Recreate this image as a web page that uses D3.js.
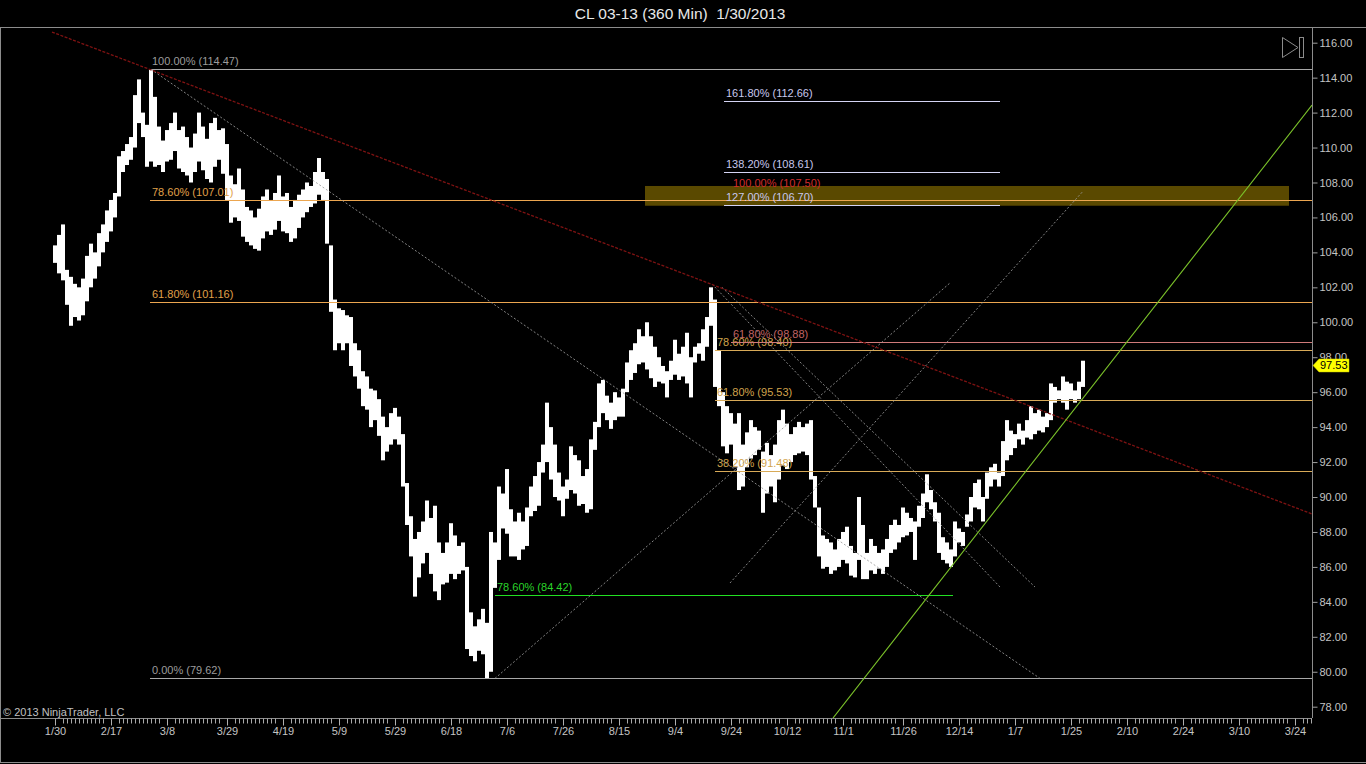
<!DOCTYPE html>
<html>
<head>
<meta charset="utf-8">
<script src="https://cdn.jsdelivr.net/npm/d3@7"></script>
<style>
  html, body { margin: 0; padding: 0; background: #000; }
  svg { display: block; font-family: "Liberation Sans", Arial, sans-serif; }
</style>
</head>
<body>
<svg id="chart" width="1366" height="764"></svg>
<script>
// ---- data (slot = one trading-day column of 360 min bars) ----
const highs = [
  104.4,105.0,105.6,103.0,102.6,102.2,102.0,102.5,103.8,104.5,
  104.0,105.1,105.6,106.4,107.0,107.4,109.5,109.8,110.2,110.6,
  113.0,113.9,112.0,111.3,114.47,112.9,111.2,110.4,111.0,111.4,
  112.0,111.0,111.2,110.6,110.0,110.8,112.0,111.2,110.5,111.4,
  111.7,111.0,111.1,110.2,108.4,107.9,108.8,107.6,106.6,106.4,
  106.0,106.5,107.2,107.6,107.0,107.4,108.4,107.2,107.4,106.6,
  107.0,107.3,107.6,108.0,107.8,108.6,109.4,108.6,108.2,104.4,
  101.3,100.8,100.7,100.4,100.3,98.8,98.4,97.2,96.9,96.2,
  96.1,95.6,94.6,94.0,94.8,95.1,94.6,93.6,90.8,88.9,
  87.6,88.0,88.6,89.8,88.8,89.5,87.4,86.8,87.4,88.5,
  87.8,87.2,87.4,86.0,83.4,82.6,83.0,83.6,82.8,88.0,
  87.4,90.6,90.2,91.6,89.3,88.6,89.1,88.6,89.4,90.6,
  91.2,92.0,93.0,95.4,94.0,93.0,91.4,90.6,91.0,92.9,
  92.4,92.1,91.2,91.6,93.3,94.3,96.5,96.7,95.8,95.4,
  96.0,95.7,96.2,97.7,98.4,98.8,99.6,99.2,100.0,99.2,
  98.6,98.0,97.5,97.2,97.8,99.0,98.2,98.6,99.4,98.0,
  98.6,98.8,99.6,100.3,102.0,101.3,98.4,96.0,95.2,94.8,
  94.2,94.8,93.0,93.7,94.4,94.0,93.8,92.6,93.1,92.4,
  93.0,94.4,95.0,94.2,93.6,94.0,94.3,94.0,94.2,94.4,
  91.2,89.4,87.8,87.6,87.4,87.0,87.6,88.0,88.3,87.2,
  86.8,90.0,88.4,86.8,87.6,87.2,86.8,87.0,87.6,88.4,
  88.7,88.4,89.4,89.1,88.8,88.6,89.5,90.2,91.3,90.4,
  89.7,89.1,87.7,87.4,87.0,88.6,88.2,88.0,89.0,90.0,
  90.8,91.0,90.0,91.4,91.7,91.9,91.4,93.2,94.4,93.8,
  93.6,94.2,93.8,94.4,95.2,94.8,95.0,94.6,94.8,96.5,
  96.3,96.1,96.9,96.6,96.5,96.1,96.6,97.8
];
const lows = [
  103.4,102.8,102.4,101.0,99.8,100.3,100.1,100.4,101.2,102.0,
  102.5,103.2,104.0,104.6,105.2,106.0,107.2,108.6,109.0,109.3,
  110.0,111.4,110.6,108.9,109.2,108.9,109.0,108.6,109.2,109.3,
  109.8,108.8,108.6,108.4,108.0,108.6,109.2,108.7,108.2,108.0,
  108.9,109.3,108.5,107.0,105.7,106.0,105.8,104.9,104.6,104.4,
  104.2,104.1,104.8,105.2,105.0,105.3,105.8,105.2,105.1,104.6,
  104.8,105.4,106.0,106.3,106.6,106.8,107.3,107.0,104.5,100.6,
  98.4,98.8,98.4,98.8,97.5,96.9,96.2,95.2,95.0,94.0,
  94.4,93.5,92.1,92.6,93.0,93.3,93.0,90.6,88.4,86.6,
  84.3,85.4,86.2,86.8,85.6,84.6,84.1,85.0,85.1,85.6,
  85.3,85.6,85.8,81.3,80.9,80.6,81.2,81.0,79.62,80.0,
  84.8,86.4,88.2,87.9,86.6,86.6,86.4,87.0,87.2,88.9,
  89.2,89.5,91.4,92.0,91.0,90.0,89.8,88.9,89.9,90.4,
  90.2,89.5,89.6,89.1,89.3,92.7,94.0,94.8,94.4,93.9,
  94.4,94.6,94.6,96.0,96.7,97.1,97.6,97.7,97.3,96.8,
  96.3,96.6,96.5,95.7,96.7,97.0,96.7,96.9,96.5,95.7,
  97.7,98.2,97.8,98.6,99.8,96.3,95.2,92.9,92.5,93.0,
  91.7,90.4,90.6,91.7,92.2,92.4,92.7,89.1,90.2,90.6,
  89.7,91.0,91.8,91.6,92.0,92.4,92.5,92.6,92.4,91.0,
  89.4,86.6,85.9,86.0,85.6,85.8,86.0,86.4,86.2,85.5,
  85.4,86.4,85.3,85.3,85.8,85.6,85.9,85.6,86.0,86.8,
  87.0,87.4,87.7,87.8,88.0,86.4,88.3,88.8,89.7,89.3,
  88.6,86.8,86.4,86.2,86.0,86.6,87.4,87.2,88.3,88.6,
  89.4,89.3,88.6,89.9,90.6,91.0,90.6,91.2,92.1,92.4,
  92.8,93.3,93.0,93.4,93.3,93.6,93.8,93.7,94.0,94.4,
  95.4,95.6,95.4,95.0,95.6,95.4,95.6,96.3
];
const lastClose = 97.53;

const dateLabels = ["1/30","2/17","3/8","3/29","4/19","5/9","5/29","6/18","7/6","7/26","8/15","9/4",
  "9/24","10/12","11/1","11/26","12/14","1/7","1/25","2/10","2/24","3/10","3/24"];
const dateSlots = [0,14,28,43,57,71,85,99,113,127,141,155,169,183,197,212,226,240,254,268,282,296,310];
const priceTicks = [78,80,82,84,86,88,90,92,94,96,98,100,102,104,106,108,110,112,114,116];

// big retracement 3/1 high -> 6/28 low
const retrPct = ["100.00%","78.60%","61.80%","0.00%"];
const retrPrice = [114.47, 107.01, 101.16, 79.62];
const retrStart = 23.75;
// retracement of the 9/14 high
const retr2Pct = ["78.60%","61.80%","38.20%"];
const retr2Price = [98.40, 95.53, 91.48];
const retr2Start = 165;
// red projection
const projPct = ["100.00%","61.80%"];
const projPrice = [107.50, 98.88];
const projStart = 169;
// extensions
const extPct = ["161.80%","138.20%","127.00%"];
const extPrice = [112.66, 108.61, 106.70];
const extRange = [167.25, 236.25];
// green retracement
const greenPct = "78.60%";
const greenPrice = 84.42;
const greenRange = [110, 224.5];
// target zone
const zoneSlots = [147.5, 308.5];
const zonePrices = [106.67, 107.80];

// drawn lines: [slot, price] pairs
const redTrend = [[-0.75, 116.61], [314.25, 89.03]];
const greenTrend = [[194.5, 77.35], [314.25, 112.43]];
const grayLines = [
  [[24, 114.47], [246.25, 79.62]],
  [[110, 79.62], [223.75, 102.25]],
  [[168.75, 85.08], [257, 107.50]],
  [[164.25, 102.19], [236.25, 84.85]],
  [[166.75, 102.0], [245, 84.85]]
];

// ---- layout ----
const W = 1366, H = 764;
const plot = { left: 1, right: 1312, top: 27, bottom: 718 };

const svg = d3.select("#chart");
const x = d3.scaleLinear().domain([0, 314.25]).range([55, plot.right]);
const y = d3.scaleLinear().domain([78, 116]).range([706.7, 42.7]);
const py = (p) => Math.round(y(p)) + 0.5;

svg.append("rect").attr("width", W).attr("height", H).attr("fill", "#000");

svg.append("text")
  .attr("x", 680).attr("y", 19)
  .attr("text-anchor", "middle")
  .attr("fill", "#e8e8e8")
  .attr("xml:space", "preserve")
  .style("white-space", "pre")
  .style("font-size", "15.5px")
  .text("CL 03-13 (360 Min)  1/30/2013");

// frame
const frame = svg.append("g").attr("stroke", "#8c8c8c").attr("shape-rendering", "crispEdges");
frame.append("line").attr("x1", 0).attr("x2", W).attr("y1", 27.5).attr("y2", 27.5);
frame.append("line").attr("x1", 0.5).attr("x2", 0.5).attr("y1", 27).attr("y2", 763);
frame.append("line").attr("x1", 0).attr("x2", W).attr("y1", 762.5).attr("y2", 762.5);
frame.append("line").attr("x1", plot.right + 0.5).attr("x2", plot.right + 0.5).attr("y1", 27).attr("y2", plot.bottom);
frame.append("line").attr("x1", 0).attr("x2", plot.right).attr("y1", plot.bottom + 0.5).attr("y2", plot.bottom + 0.5);

svg.append("clipPath").attr("id", "plotClip")
  .append("rect")
  .attr("x", plot.left).attr("y", plot.top)
  .attr("width", plot.right - plot.left).attr("height", plot.bottom - plot.top);

const g = svg.append("g").attr("clip-path", "url(#plotClip)");

// target zone
g.append("rect")
  .attr("x", x(zoneSlots[0]))
  .attr("width", x(zoneSlots[1]) - x(zoneSlots[0]))
  .attr("y", y(zonePrices[1]))
  .attr("height", y(zonePrices[0]) - y(zonePrices[1]))
  .attr("fill", "#806800")
  .attr("opacity", 0.7);

// price bars
g.append("g")
  .selectAll("rect")
  .data(highs)
  .enter()
  .append("rect")
  .attr("x", (d, i) => x(i) - 2)
  .attr("width", 4)
  .attr("y", (d) => y(d))
  .attr("height", (d, i) => Math.max(1, y(lows[i]) - y(d)))
  .attr("fill", "#fff");

// helper for levels
const drawLevels = (pcts, prices, x0, x1, lineColor, textColor) => {
  prices.forEach((p, i) => {
    g.append("line")
      .attr("x1", x(x0)).attr("x2", x1 === null ? plot.right : x(x1))
      .attr("y1", py(p)).attr("y2", py(p))
      .attr("stroke", lineColor)
      .attr("shape-rendering", "crispEdges");
    g.append("text")
      .attr("x", x(x0) + 2).attr("y", y(p) - 4)
      .attr("fill", textColor)
      .style("font-size", "11px")
      .text(`${pcts[i]} (${p.toFixed(2)})`);
  });
};

drawLevels(retrPct.filter((d, i) => i === 0 || i === 3),
  retrPrice.filter((d, i) => i === 0 || i === 3), retrStart, null, "#a8a8a8", "#9c9c9c");
drawLevels(retrPct.slice(1, 3), retrPrice.slice(1, 3), retrStart, null, "#eca650", "#e0a04a");
drawLevels(retr2Pct, retr2Price, retr2Start, null, "#d8aa58", "#d2a44c");
drawLevels([projPct[1]], [projPrice[1]], projStart, null, "#d07a7a", "#c06464");
g.append("text")
  .attr("x", x(projStart) + 2).attr("y", y(projPrice[0]) - 4)
  .attr("fill", "#d02c2c")
  .style("font-size", "11px")
  .text(`${projPct[0]} (${projPrice[0].toFixed(2)})`);
drawLevels(extPct, extPrice, extRange[0], extRange[1], "#d4d4f4", "#c8c8ee");
drawLevels([greenPct], [greenPrice], greenRange[0], greenRange[1], "#22e022", "#2ad42a");

// trend lines
const seg = (pts) => d3.line().x((d) => x(d[0])).y((d) => y(d[1]))(pts);

g.selectAll(".gray")
  .data(grayLines)
  .enter()
  .append("path")
  .attr("d", seg)
  .attr("fill", "none")
  .attr("stroke", "#9a9a9a")
  .attr("stroke-width", 1)
  .attr("stroke-dasharray", "2,2")
  .attr("opacity", 0.85);

g.append("path")
  .attr("d", seg(redTrend))
  .attr("fill", "none")
  .attr("stroke", "#7e1212")
  .attr("stroke-width", 1.3)
  .attr("stroke-dasharray", "3,1.5");

g.append("path")
  .attr("d", seg(greenTrend))
  .attr("fill", "none")
  .attr("stroke", "#7cc42a")
  .attr("stroke-width", 1.1);

// y axis
const yAxis = svg.append("g")
  .attr("transform", `translate(${plot.right + 0.5},0)`)
  .call(d3.axisRight(y).tickValues(priceTicks).tickFormat(d3.format(".2f")).tickSize(5).tickPadding(2));
yAxis.select(".domain").remove();
yAxis.selectAll("line").attr("stroke", "#a0a0a0");
yAxis.selectAll("text").attr("fill", "#c4c4c4").style("font-size", "11px")
  .style("font-family", "'Liberation Sans', Arial, sans-serif");

// x axis: minor ticks
const minorSlots = d3.range(0, 315).filter((s) => dateSlots.every((d) => Math.abs(d - s) > 1));
const xMinor = svg.append("g")
  .attr("transform", `translate(0,${plot.bottom + 0.5})`)
  .call(d3.axisBottom(x).tickValues(minorSlots).tickFormat("").tickSize(5));
xMinor.select(".domain").remove();
xMinor.selectAll("line").attr("stroke", "#a8a8a8");

const xAxis = svg.append("g")
  .attr("transform", `translate(0,${plot.bottom + 0.5})`)
  .call(d3.axisBottom(x).tickValues(dateSlots).tickFormat((d, i) => dateLabels[i]).tickSize(7).tickPadding(2));
xAxis.select(".domain").remove();
xAxis.selectAll("line").attr("stroke", "#b0b0b0");
xAxis.selectAll("text").attr("fill", "#c4c4c4").style("font-size", "11px")
  .style("font-family", "'Liberation Sans', Arial, sans-serif");

// last price marker
const ly = y(lastClose);
svg.append("path")
  .attr("d", `M${plot.right + 1},${ly} L${plot.right + 7},${ly - 6.5} L${plot.right + 37},${ly - 6.5} L${plot.right + 37},${ly + 6.5} L${plot.right + 7},${ly + 6.5} Z`)
  .attr("fill", "#ffff00")
  .attr("stroke", "#c8c800")
  .attr("stroke-width", 0.5);
svg.append("text")
  .attr("x", plot.right + 8).attr("y", ly + 4)
  .attr("fill", "#000")
  .style("font-size", "11px")
  .text(lastClose.toFixed(2));

// scroll-to-end icon
svg.append("path")
  .attr("d", "M1282.5,37.5 L1298,47.5 L1282.5,57.5 Z")
  .attr("fill", "none").attr("stroke", "#8c8c8c");
svg.append("rect")
  .attr("x", 1299.5).attr("y", 37.5).attr("width", 4).attr("height", 20)
  .attr("fill", "none").attr("stroke", "#8c8c8c");

// copyright
svg.append("text")
  .attr("x", 3).attr("y", 716)
  .attr("fill", "#c0c0c0")
  .style("font-size", "11px")
  .text("© 2013 NinjaTrader, LLC");
</script>
</body>
</html>
